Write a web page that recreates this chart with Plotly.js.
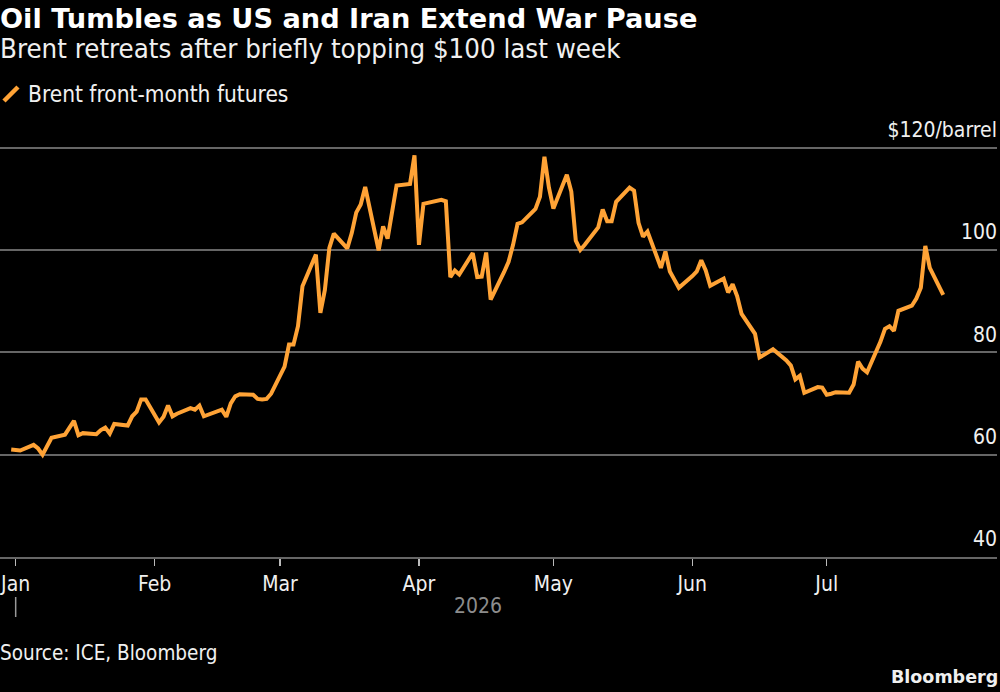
<!DOCTYPE html>
<html>
<head>
<meta charset="utf-8">
<script src="https://cdn.plot.ly/plotly-3.0.1.min.js"></script>
<style>html,body{margin:0;padding:0;background:#000;}</style>
</head>
<body>
<div id="chart" style="width:1000px;height:692px;"></div>
<script>
const dates = [
"2025-12-31","2026-01-02","2026-01-05","2026-01-06","2026-01-07","2026-01-08","2026-01-09",
"2026-01-12","2026-01-13","2026-01-14","2026-01-15","2026-01-16",
"2026-01-19","2026-01-20","2026-01-21","2026-01-22","2026-01-23",
"2026-01-26","2026-01-27","2026-01-28","2026-01-29","2026-01-30",
"2026-02-02","2026-02-03","2026-02-04","2026-02-05","2026-02-06",
"2026-02-09","2026-02-10","2026-02-11","2026-02-12","2026-02-13",
"2026-02-16","2026-02-17","2026-02-18","2026-02-19","2026-02-20",
"2026-02-23","2026-02-24","2026-02-25","2026-02-26","2026-02-27",
"2026-03-02","2026-03-03","2026-03-04","2026-03-05","2026-03-06",
"2026-03-09","2026-03-10","2026-03-11","2026-03-12","2026-03-13",
"2026-03-16","2026-03-17","2026-03-18","2026-03-19","2026-03-20",
"2026-03-23","2026-03-24","2026-03-25","2026-03-26","2026-03-27",
"2026-03-30","2026-03-31","2026-04-01","2026-04-02",
"2026-04-06","2026-04-07","2026-04-08","2026-04-09","2026-04-10",
"2026-04-13","2026-04-14","2026-04-15","2026-04-16","2026-04-17",
"2026-04-20","2026-04-21","2026-04-22","2026-04-23","2026-04-24",
"2026-04-27","2026-04-28","2026-04-29","2026-04-30","2026-05-01",
"2026-05-04","2026-05-05","2026-05-06","2026-05-07","2026-05-08",
"2026-05-11","2026-05-12","2026-05-13","2026-05-14","2026-05-15",
"2026-05-18","2026-05-19","2026-05-20","2026-05-21","2026-05-22",
"2026-05-25","2026-05-26","2026-05-27","2026-05-28","2026-05-29",
"2026-06-01","2026-06-02","2026-06-03","2026-06-04","2026-06-05",
"2026-06-08","2026-06-09","2026-06-10","2026-06-11","2026-06-12",
"2026-06-15","2026-06-16","2026-06-17","2026-06-18","2026-06-19",
"2026-06-22","2026-06-23","2026-06-24","2026-06-25","2026-06-26",
"2026-06-29","2026-06-30","2026-07-01","2026-07-02","2026-07-03",
"2026-07-06","2026-07-07","2026-07-08","2026-07-09","2026-07-10",
"2026-07-13","2026-07-14","2026-07-15","2026-07-16","2026-07-17",
"2026-07-20","2026-07-21","2026-07-22","2026-07-23","2026-07-24",
"2026-07-27"];
const brent = [
61.0,60.8,61.9,61.2,60.0,61.8,63.3,
63.9,65.3,66.6,63.8,64.2,
64.0,64.8,65.3,64.1,66.0,
65.7,67.5,68.4,70.8,70.8,
66.3,67.4,69.6,67.5,68.0,
69.1,68.8,69.6,67.5,67.8,
68.8,67.4,70.0,71.4,71.8,
71.7,70.9,70.8,70.9,71.9,
77.2,81.5,81.5,85.1,92.9,
99.1,87.7,92.2,100.4,103.2,
100.3,103.3,107.3,108.9,112.3,
99.9,104.6,102.2,107.5,112.6,
112.9,118.5,101.0,109.0,
109.8,109.5,94.7,96.0,95.2,
99.4,94.7,94.8,99.5,90.3,
95.7,97.7,101.0,105.1,105.4,
108.0,110.4,118.2,112.2,108.1,
114.7,111.4,101.8,100.0,101.0,
104.4,107.9,105.6,105.6,109.4,
112.2,111.6,105.3,102.6,103.6,
96.5,99.7,95.8,94.2,92.6,
94.9,95.8,98.0,96.0,93.0,
94.4,91.7,93.3,91.0,87.5,
83.6,79.0,79.5,80.0,80.6,
78.4,77.4,74.7,75.4,72.1,
73.2,73.1,71.7,71.9,72.2,
72.1,73.7,78.2,76.8,76.1,
82.1,84.6,85.1,84.2,88.1,
89.1,90.5,92.6,100.8,96.5,
91.2];
const yTickVals = [40,60,80,100,120];
const yTickText = ["40","60","80","100","$120/barrel"];
const xTickVals = ["2026-01-01","2026-02-01","2026-03-01","2026-04-01","2026-05-01","2026-06-01","2026-07-01"];
const xTickText = ["Jan","Feb","Mar","Apr","May","Jun","Jul"];
const titleText = "Oil Tumbles as US and Iran Extend War Pause";
const subtitleText = "Brent retreats after briefly topping $100 last week";
const seriesName = "Brent front-month futures";
const sourceText = "Source: ICE, Bloomberg";
const yearText = "2026";

const WHITE = "#f0f0f0";
const ORANGE = "#ffa336";
const GRID = "#666666";
const FONT = "'DejaVu Sans Condensed','DejaVu Sans',sans-serif";

const trace = {
  x: dates, y: brent, type: "scatter", mode: "lines", name: seriesName,
  line: {color: ORANGE, width: 4, shape: "linear"}, showlegend: false, hoverinfo: "x+y"
};

const note = (text, x, y, opts) => Object.assign({
  text, x, y, xref: "paper", yref: "paper", showarrow: false, xshift: -2,
  xanchor: "left", yanchor: "middle", font: {family: FONT, size: 20, color: WHITE}
}, opts || {});
const py = p => (557 - p) / 457;

const layout = {
  width: 1000, height: 692,
  paper_bgcolor: "#000", plot_bgcolor: "#000",
  margin: {l: 0, r: 3, t: 100, b: 135, pad: 0},
  font: {family: FONT, color: WHITE, size: 21},
  showlegend: false,
  xaxis: {
    type: "date",
    range: ["2025-12-28 12:00", "2026-08-08 00:00"],
    tickmode: "array", tickvals: xTickVals, ticktext: xTickText,
    ticks: "outside", ticklen: 7, tickwidth: 1.5, tickcolor: "#bbb",
    showgrid: false, zeroline: false,
    showline: true, linecolor: GRID, linewidth: 2,
    tickfont: {family: FONT, size: 21, color: WHITE},
    fixedrange: true
  },
  yaxis: {
    side: "right",
    range: [40, 129.3],
    tickmode: "array", tickvals: yTickVals, ticktext: yTickText,
    ticklabelposition: "inside", ticklabelshift: -18, ticklabelstandoff: -3,
    ticks: "", showgrid: true, gridcolor: GRID, gridwidth: 2,
    zeroline: false, showline: false,
    tickfont: {family: FONT, size: 21, color: WHITE},
    fixedrange: true
  },
  shapes: [
    {type: "line", xref: "paper", yref: "paper", x0: 0.004, x1: 0.018, y0: py(101), y1: py(87),
     line: {color: ORANGE, width: 4.5}},
    {type: "line", xref: "x", yref: "paper", x0: xTickVals[0], x1: xTickVals[0], y0: py(597), y1: py(617),
     line: {color: "#999", width: 1.5}}
  ],
  annotations: [
    note(titleText, 0, py(18), {font: {family: "'DejaVu Sans',sans-serif", size: 27.2, color: "#fff", weight: 700}}),
    note(subtitleText, 0, py(49), {font: {family: FONT, size: 27.4, color: WHITE}}),
    note(seriesName, 0.028, py(94), {font: {family: FONT, size: 22.5, color: WHITE}}),
    note(yearText, 0.479, py(606), {xanchor: "center", xshift: 0, font: {family: FONT, size: 21, color: "#8c8c8c"}}),
    note(sourceText, 0, py(653), {font: {family: FONT, size: 20.5, color: WHITE}}),
    note("Bloomberg", 1, py(677), {xanchor: "right", xshift: 3, font: {family: "'DejaVu Sans',sans-serif", size: 17.5, color: WHITE, weight: 700}})
  ]
};
Plotly.newPlot("chart", [trace], layout, {displayModeBar: false, staticPlot: true});
</script>
</body>
</html>
